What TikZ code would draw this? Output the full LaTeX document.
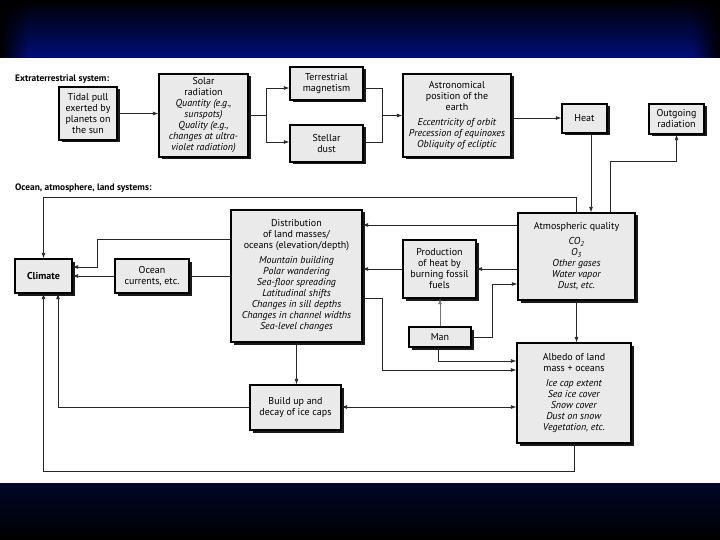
\documentclass[tikz,border=0pt]{standalone}
\usepackage{fontspec}
\setmainfont{PT Sans}
\usetikzlibrary{arrows.meta,shadows,fadings}
\definecolor{bandblue}{RGB}{0,14,120}
\definecolor{bandnavy}{RGB}{0,6,40}
\definecolor{boxfill}{RGB}{234,234,234}
\begin{document}
\begin{tikzpicture}[x=1pt,y=-1pt,
  box/.style={draw=black, line width=1.1pt, fill=boxfill, inner sep=0pt, align=center,
    font=\fontsize{10}{11}\selectfont,
    drop shadow={shadow xshift=2.5pt, shadow yshift=-2.5pt, opacity=0.9, fill=black}},
  conn/.style={line width=0.7pt, draw=black!85},
  arr/.style={conn, -{Latex[length=5.5pt,width=3.8pt]}},
  arrboth/.style={conn, {Latex[length=5.5pt,width=3.8pt]}-{Latex[length=5.5pt,width=3.8pt]}},
  lab/.style={anchor=west, inner sep=0pt, font=\bfseries\fontsize{9.4}{11}\selectfont}]
% background
\useasboundingbox (0,0) rectangle (720,540);
\fill[white] (0,0) rectangle (720,540);
\shade[top color=black, bottom color=bandblue] (0,0) rectangle (720,58);
\fill[black, path fading=east] (0,0) rectangle (28,58);
\fill[black, path fading=west] (692,0) rectangle (720,58);
\shade[top color=bandnavy, bottom color=black] (0,483) rectangle (720,540);
% labels
\node[lab] (lab1) at (15,79) {Extraterrestrial system:};
\node[lab] (lab2) at (15,188) {Ocean, atmosphere, land systems:};
% boxes
\node[box, minimum width=58pt, minimum height=53pt] (tidal) at (88,113.5)
  {Tidal pull\\exerted by\\planets on\\the sun};
\node[box, minimum width=89pt, minimum height=83pt] (solar) at (203.5,115.5)
  {Solar\\radiation\\\textit{Quantity (e.g.,}\\\textit{sunspots)}\\\textit{Quality (e.g.,}\\\textit{changes at ultra-}\\\textit{violet radiation)}};
\node[box, minimum width=73pt, minimum height=33pt] (terr) at (326.5,83.5)
  {Terrestrial\\magnetism};
\node[box, minimum width=73pt, minimum height=37pt] (stellar) at (326.5,143.5)
  {Stellar\\dust};
\node[box, minimum width=108pt, minimum height=83pt] (astro) at (457,115.5)
  {Astronomical\\position of the\\earth\\[4pt]\textit{Eccentricity of orbit}\\\textit{Precession of equinoxes}\\\textit{Obliquity of ecliptic}};
\node[box, minimum width=45pt, minimum height=29pt] (heat) at (584.5,118.5) {Heat};
\node[box, minimum width=55pt, minimum height=30pt] (outgoing) at (676.5,119)
  {Outgoing\\radiation};
\node[box, minimum width=57pt, minimum height=34pt, font=\bfseries\fontsize{10}{11}\selectfont] (climate) at (43.5,276) {Climate};
\node[box, minimum width=74pt, minimum height=34pt] (ocean) at (152,276)
  {Ocean\\currents, etc.};
\node[box, minimum width=131pt, minimum height=132pt] (distr) at (296.5,276)
  {Distribution\\of land masses/\\oceans (elevation/depth)\\[4pt]\textit{Mountain building}\\\textit{Polar wandering}\\\textit{Sea-floor spreading}\\\textit{Latitudinal shifts}\\\textit{Changes in sill depths}\\\textit{Changes in channel widths}\\\textit{Sea-level changes}};
\node[box, minimum width=73pt, minimum height=58pt] (prod) at (439.5,269)
  {Production\\of heat by\\burning fossil\\fuels};
\node[box, minimum width=62pt, minimum height=20pt] (man) at (440,337) {Man};
\node[box, minimum width=117pt, minimum height=87pt] (atm) at (576.5,256.5)
  {Atmospheric quality\\[4pt]\textit{CO\textsubscript{2}}\\\textit{O\textsubscript{3}}\\\textit{Other gases}\\\textit{Water vapor}\\\textit{Dust, etc.}};
\node[box, minimum width=91pt, minimum height=45pt] (buildup) at (295.5,407.5)
  {Build up and\\decay of ice caps};
\node[box, minimum width=114pt, minimum height=100pt] (albedo) at (574,393)
  {Albedo of land\\mass + oceans\\[4pt]\textit{Ice cap extent}\\\textit{Sea ice cover}\\\textit{Snow cover}\\\textit{Dust on snow}\\\textit{Vegetation, etc.}};
% junction coordinates
\coordinate (s1) at (266,115.5);
\coordinate (j1) at (382,115.5);
\coordinate (o1) at (610,161);
\coordinate (m1) at (492,284);
\coordinate (m2) at (438,361);
\coordinate (d1) at (382,370);
\coordinate (k1) at (97,239);
% extraterrestrial connectors
\draw[arr] (tidal.east) -- (solar.west |- tidal.east);
\draw[conn] (solar.east |- s1) -- (s1);
\draw[arr] (s1) |- (terr.west |- 0,88);
\draw[arr] (s1) |- (stellar.west |- 0,142);
\draw[conn] (terr.east |- 0,88) -| (j1);
\draw[conn] (stellar.east |- 0,142) -| (j1);
\draw[arr] (j1) -- (astro.west |- j1);
\draw[arr] (astro.east |- 0,118) -- (heat.west |- 0,118);
\draw[arr] (heat.south -| 591,0) -- (atm.north -| 591,0);
\draw[arr] (atm.north -| o1) -- (o1) -| (outgoing.south);
% ocean/atmosphere/land connectors
\draw[arr] (atm.north) |- (climate.north |- 0,197) -- (climate.north);
\draw[arr] (atm.west |- 0,225) -- (distr.east |- 0,225);
\draw[arr] (atm.west |- prod.east) -- (prod.east);
\draw[arr] (prod.west) -- (distr.east |- prod.west);
\draw[arr, draw=black!55] (man.north) -- (man.north |- prod.south);
\draw[arr] (man.east) -| (m1) -- (atm.west |- m1);
\draw[arr] (man.south -| m2) -- (m2) -- (albedo.west |- m2);
\draw[arr] (distr.east |- 0,298) -| (d1) -- (albedo.west |- d1);
\draw[arr] (atm.south) -- (atm.south |- albedo.north);
\draw[arr] (distr.south) -- (distr.south |- buildup.north);
\draw[arrboth] (buildup.east |- 0,407) -- (albedo.west |- 0,407);
\draw[arr] (buildup.west) -| (climate.south -| 58,0);
\draw[arr] (albedo.south) |- (climate.south |- 0,471) -- (climate.south);
\draw[arr] (ocean.west) -- (climate.east);
\draw[conn, line width=1pt] (distr.west) -- (ocean.east);
\draw[arr] (distr.west |- k1) -- (k1) |- (climate.east |- 0,267);
\end{tikzpicture}
\end{document}
